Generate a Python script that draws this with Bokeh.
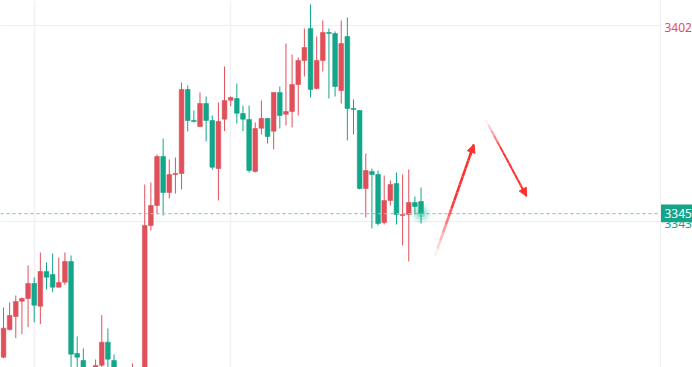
from bokeh.plotting import figure
from bokeh.models import FixedTicker, Span, Arrow, NormalHead, Range1d, ColumnDataSource
from bokeh.embed import file_html
from bokeh.resources import INLINE
from bokeh.core.properties import value
import numpy as np

# ---------------- data ----------------
opens = [3302.16, 3310.49, 3314.41, 3319.01, 3319.83, 3324.34, 3317.51, 3327.95, 3327.05, 3323.23,
         3324.73, 3330.96, 3303.27, 3301.16, 3297.50, 3296.00, 3299.75, 3306.67, 3301.16, 3297.00,
         3294.20, 3293.00, 3297.00, 3292.00, 3341.80, 3347.82, 3362.57, 3351.73, 3357.15, 3357.45,
         3382.74, 3373.41, 3371.60, 3378.52, 3373.41, 3358.96, 3373.80, 3379.52, 3380.03, 3375.51,
         3373.71, 3358.06, 3371.09, 3374.01, 3370.19, 3381.84, 3375.30, 3376.12, 3384.24, 3391.47,
         3401.10, 3383.04, 3391.47, 3399.90, 3399.60, 3382.44, 3398.69, 3377.02, 3376.42, 3352.94,
         3358.06, 3357.15, 3342.70, 3349.33, 3354.44, 3344.81, 3345.11, 3348.72, 3349.02]
highs = [3317.12, 3318.62, 3320.73, 3320.13, 3329.76, 3326.15, 3333.67, 3330.66, 3333.37, 3332.17,
         3333.67, 3332.77, 3308.39, 3304.78, 3298.50, 3301.46, 3314.80, 3310.80, 3302.97, 3298.60,
         3298.20, 3300.26, 3298.50, 3354.14, 3354.74, 3363.17, 3367.99, 3361.67, 3362.27, 3384.85,
         3383.94, 3376.42, 3381.84, 3380.63, 3374.91, 3378.83, 3389.66, 3380.63, 3384.55, 3377.92,
         3377.92, 3372.81, 3379.43, 3374.20, 3382.00, 3383.64, 3396.59, 3393.27, 3392.37, 3401.10,
         3408.33, 3398.69, 3403.51, 3401.10, 3400.20, 3403.51, 3404.41, 3379.73, 3376.50, 3363.47,
         3358.96, 3358.36, 3356.85, 3355.35, 3357.75, 3357.15, 3358.66, 3350.53, 3353.24]
lows = [3301.85, 3310.19, 3307.88, 3309.08, 3311.19, 3312.69, 3312.09, 3322.53, 3321.72, 3323.10,
        3323.95, 3297.00, 3296.50, 3293.00, 3292.00, 3295.00, 3299.15, 3297.50, 3295.00, 3292.50,
        3291.50, 3291.00, 3293.00, 3290.00, 3340.30, 3345.41, 3344.81, 3349.93, 3351.43, 3352.64,
        3370.10, 3372.81, 3371.40, 3367.09, 3358.66, 3349.33, 3370.19, 3377.71, 3372.50, 3370.19,
        3357.75, 3357.75, 3369.19, 3366.48, 3364.68, 3371.00, 3371.90, 3371.30, 3374.91, 3386.65,
        3380.33, 3382.74, 3388.16, 3380.03, 3380.63, 3378.52, 3367.39, 3369.19, 3352.64, 3344.21,
        3340.90, 3341.80, 3342.10, 3347.82, 3342.10, 3335.78, 3330.96, 3345.11, 3342.40]
closes = [3310.89, 3314.71, 3318.92, 3319.83, 3324.34, 3317.81, 3327.95, 3326.24, 3323.23, 3324.64,
          3330.96, 3303.06, 3302.16, 3297.00, 3294.00, 3299.66, 3306.67, 3301.55, 3297.00, 3294.20,
          3296.80, 3297.50, 3296.00, 3341.80, 3347.82, 3362.57, 3351.73, 3357.15, 3357.45, 3382.74,
          3373.41, 3373.11, 3378.52, 3373.41, 3359.35, 3373.11, 3379.43, 3380.33, 3375.61, 3373.80,
          3358.36, 3371.00, 3374.01, 3368.59, 3381.84, 3374.91, 3376.12, 3384.24, 3391.47, 3395.38,
          3382.74, 3391.47, 3399.90, 3399.60, 3383.64, 3396.59, 3377.02, 3376.72, 3352.94, 3358.36,
          3357.15, 3342.40, 3349.33, 3354.14, 3345.11, 3345.11, 3348.72, 3347.52, 3345.40]
index = list(range(len(opens)))

# price scale
price_ticks = [3402, 3343]
price_tick_labels = ["3402", "3343"]
price_tick_colors = ["#E64C5A", "#14A38A"]
bar_grid_ticks = [5, 37]
last_price = closes[-1]
last_label = "3345"

# hand-drawn arrows (bar index, price)
arrow_tail_x = [70.24, 78.5]
arrow_tail_y = [3332.47, 3373.71]
arrow_head_x = [76.6, 85.18]
arrow_head_y = [3366.18, 3350.62]

UP = "#E0505B"
DOWN = "#12A68A"
X0, XSEP, X1 = -0.49, 107.0, 112.21
Y0, Y1 = 3299.05, 3409.53

# ---------------- figure ----------------
p = figure(width=692, height=367, output_backend="svg", toolbar_location=None,
           x_range=Range1d(X0, X1), y_range=Range1d(Y0, Y1),
           x_axis_location=None, y_axis_location=None, min_border=0)
p.outline_line_color = None
p.background_fill_color = "white"
p.border_fill_color = "white"

p.xgrid.ticker = FixedTicker(ticks=bar_grid_ticks)
p.xgrid.grid_line_color = "#F1F1F4"
p.xgrid.grid_line_width = 1.5
p.ygrid.grid_line_color = None

# horizontal grid lines (stop at the price-scale border)
p.segment(x0=[X0] * len(price_ticks), x1=[XSEP] * len(price_ticks), y0=price_ticks,
          y1=price_ticks, line_color="#EFEFF1", line_width=1.2)
# price-scale border
p.add_layout(Span(location=XSEP, dimension="height", line_color="#EEEEF0", line_width=1))

colors = [UP if c >= o else DOWN for o, c in zip(opens, closes)]
src = ColumnDataSource(dict(
    x=index, o=opens, h=highs, l=lows, c=closes,
    top=[max(o, c) for o, c in zip(opens, closes)],
    bottom=[min(o, c) for o, c in zip(opens, closes)],
    color=colors))

p.segment(x0="x", y0="h", x1="x", y1="l", color="color", line_width=1, source=src)
p.vbar(x="x", top="top", bottom="bottom", width=0.76, fill_color="color", line_color="color",
       line_width=0.6, source=src)

# current price line
p.line(x=[X0, XSEP], y=[last_price, last_price], line_color="#86D1BE",
       line_dash="3 3", line_width=1.3)

# glow on last candle
for s, a in [(20, 0.10), (14, 0.16), (8, 0.30)]:
    p.scatter([index[-1]], [last_price], size=s, color="#1BB394", alpha=a, line_color=None)

# arrows with fading tails
for tx, ty, hx, hy, lw, frac in zip(arrow_tail_x, arrow_tail_y, arrow_head_x, arrow_head_y,
                                    [2.5, 2.0], [0.5, 0.4]):
    n = 14
    t = np.linspace(0, 1, n + 1)
    xs = tx + (hx - tx) * t
    ys = ty + (hy - ty) * t
    alphas = [min(1.0, ((k + 0.5) / n) / frac) for k in range(n)]
    p.segment(x0=xs[:-1], y0=ys[:-1], x1=xs[1:], y1=ys[1:], line_color="#FF3030",
              line_alpha=alphas, line_width=lw)
    sx = tx + (hx - tx) * 0.9
    sy = ty + (hy - ty) * 0.9
    p.add_layout(Arrow(end=NormalHead(size=8, fill_color="#FF3030", line_color="#FF3030"),
                       x_start=sx, y_start=sy, x_end=hx, y_end=hy,
                       line_color="#FF3030", line_width=lw))

# price-scale labels
p.text(x=[XSEP] * len(price_ticks), y=price_ticks, text=price_tick_labels,
       text_color=price_tick_colors, x_offset=4, y_offset=1.5,
       text_font=value("Noto Sans"), text_font_size="12px",
       text_baseline="middle", text_align="left")

# current price tag
p.quad(left=[XSEP], right=[X1], top=[last_price + 2.7], bottom=[last_price - 2.62],
       fill_color="#13A58A", line_color=None)
p.text(x=[XSEP], y=[last_price], text=[last_label], text_color="white", x_offset=4,
       text_font=value("Noto Sans"), text_font_size="12px",
       text_baseline="middle", text_align="left")

open("out.html", "w").write(file_html(p, INLINE))
